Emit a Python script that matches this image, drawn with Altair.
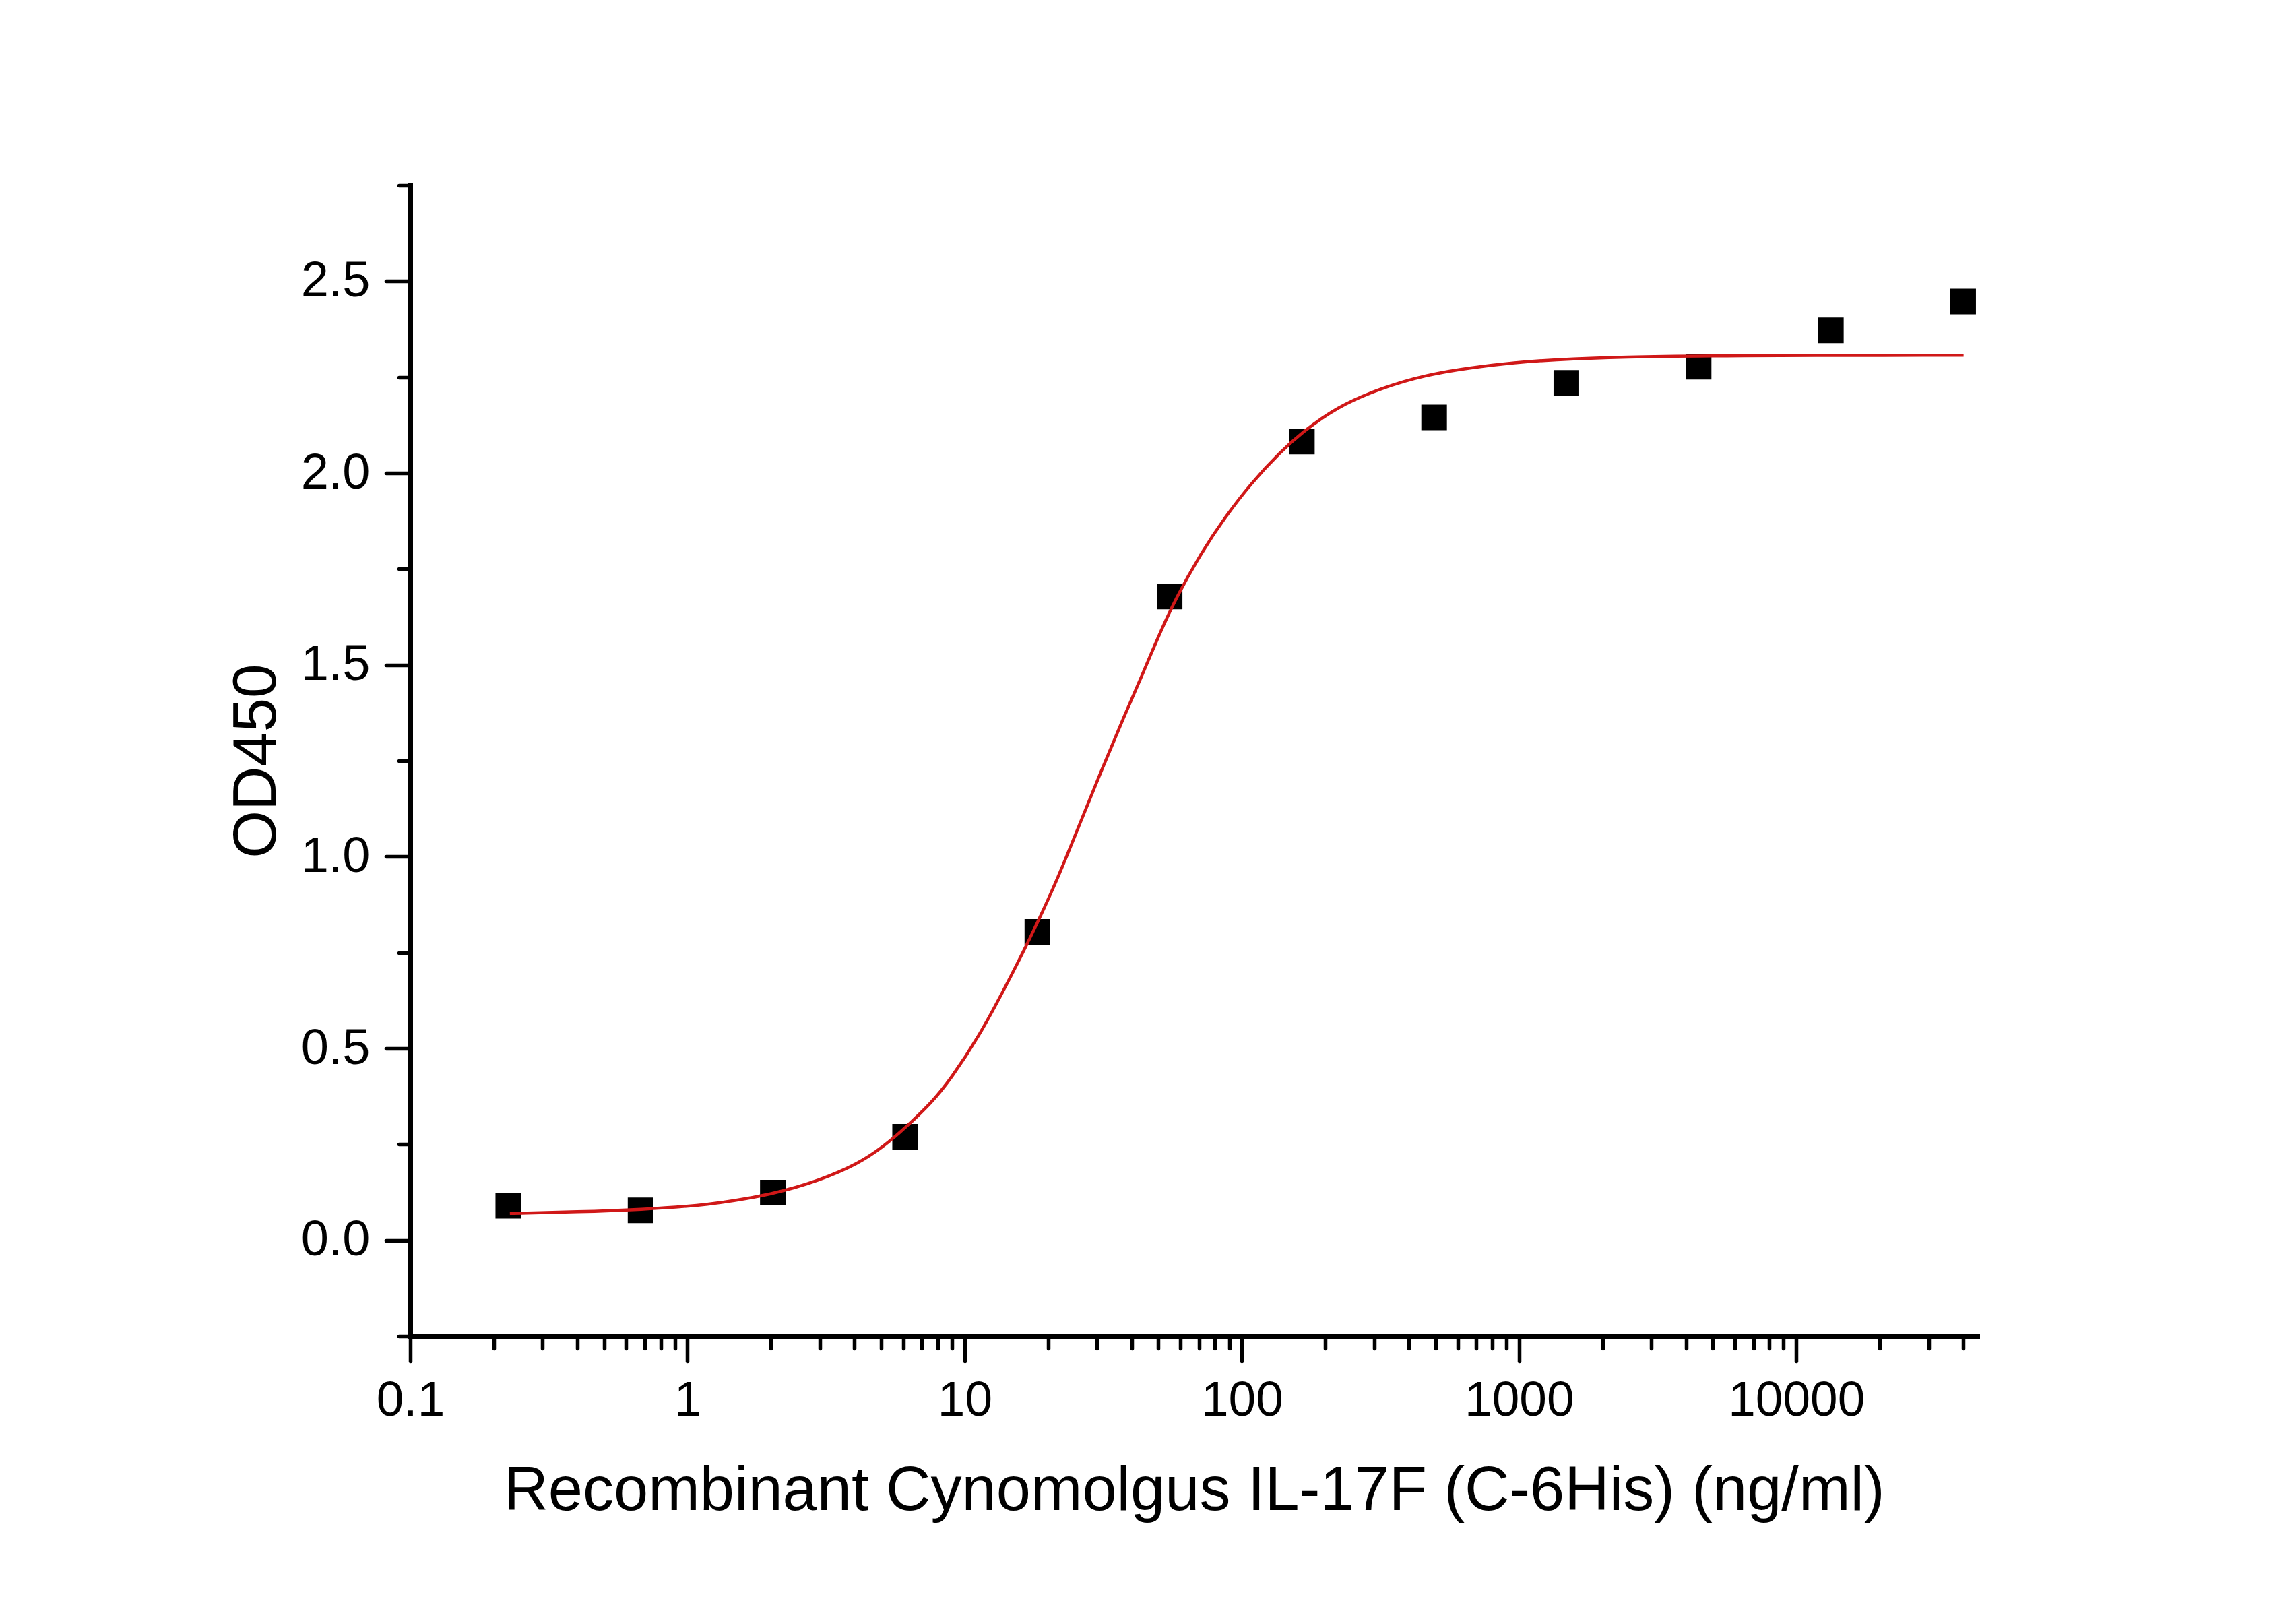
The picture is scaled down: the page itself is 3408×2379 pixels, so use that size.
import altair as alt
import pandas as pd

# Measured OD450 values for the IL-17F dilution series (ng/ml)
conc = [0.2257, 0.6772, 2.032, 6.096, 18.29, 54.87, 164.6, 493.8, 1481, 4444, 13333, 40000]
od450 = [0.090, 0.078, 0.124, 0.270, 0.804, 1.678, 2.082, 2.145, 2.235, 2.277, 2.372, 2.447]

# Fitted dose-response curve, sampled along the concentration range
fit_conc = [0.2287, 0.405, 0.675, 1.182, 2.05, 3.00, 4.125, 5.11, 6.045, 7.63, 8.86,
            11.28, 13.98, 17.31, 21.31, 25.67, 30.94, 37.29, 44.12, 49.34, 57.81,
            71.64, 86.37, 108.1, 137.7, 164.4, 219.5, 318.8, 463.2, 672.3, 977,
            1292, 2413, 5238, 40150]
fit_od = [0.070, 0.074, 0.080, 0.091, 0.120, 0.156, 0.199, 0.245, 0.290, 0.360, 0.418,
          0.532, 0.658, 0.790, 0.930, 1.075, 1.220, 1.360, 1.480, 1.565, 1.675,
          1.794, 1.882, 1.974, 2.055, 2.105, 2.172, 2.222, 2.256, 2.275, 2.288,
          2.295, 2.303, 2.306, 2.307]

# Axis tick values
x_major = [0.1, 1, 10, 100, 1000, 10000]
x_minor = [round(m * d, 4) for d in [0.1, 1, 10, 100, 1000] for m in range(2, 10)] + [20000, 30000, 40000]
y_major = [0.0, 0.5, 1.0, 1.5, 2.0, 2.5]
y_minor = [-0.25, 0.25, 0.75, 1.25, 1.75, 2.25, 2.75]

x_title = "Recombinant Cynomolgus IL-17F (C-6His) (ng/ml)"
y_title = "OD450"

FONT = "Liberation Sans"
W, H = 2326, 1708

pts = pd.DataFrame({"conc": conc, "od": od450})
fit = pd.DataFrame({"conc": fit_conc, "od": fit_od})

x_scale = alt.Scale(type="log", domain=[0.1, 45000], nice=False)
y_scale = alt.Scale(domain=[-0.25, 2.75], nice=False, zero=False)

common_axis = dict(grid=False, tickColor="black", tickWidth=5.5, tickCap="round",
                   domainColor="black", labelColor="black", titleColor="black",
                   labelFont=FONT, titleFont=FONT)

points = alt.Chart(pts).mark_point(
    shape="square", filled=True, size=1444, color="black", opacity=1
).encode(
    x=alt.X("conc:Q", scale=x_scale,
            axis=alt.Axis(orient="bottom", values=x_major, format="~g",
                          tickSize=37, domainWidth=7, domainCap="square",
                          labelFontSize=73, labelPadding=22, labelFlush=False,
                          labelOverlap=False, labelBound=False, labelLimit=800,
                          title=x_title, titleFontSize=92, titleFontWeight="normal",
                          titleX=W / 2, titleY=257, titleAlign="center",
                          titleBaseline="alphabetic", titleLimit=4000, **common_axis)),
    y=alt.Y("od:Q", scale=y_scale,
            axis=alt.Axis(orient="left", values=y_major, format=".1f",
                          tickSize=36, domainWidth=7, domainCap="square",
                          labelFontSize=74, labelPadding=24, labelFlush=False,
                          labelOverlap=False, labelBound=False, labelLimit=800,
                          title=y_title, titleFontSize=91, titleFontWeight="normal",
                          titleAngle=270, titleX=-201, titleY=H / 2, titleAlign="center",
                          titleBaseline="alphabetic", **common_axis)),
)

# Smooth red fit line drawn above the markers; its axes carry the minor ticks
curve = alt.Chart(fit).mark_line(
    color="#d01818", strokeWidth=4.5, interpolate="basis"
).encode(
    x=alt.X("conc:Q", scale=x_scale,
            axis=alt.Axis(orient="bottom", values=x_minor, labels=False, domain=False,
                          tickSize=18, title="", **common_axis)),
    y=alt.Y("od:Q", scale=y_scale,
            axis=alt.Axis(orient="left", values=y_minor, labels=False, domain=False,
                          tickSize=17, title="", **common_axis)),
)

chart = alt.layer(points, curve).resolve_axis(
    x="independent", y="independent"
).properties(
    width=W, height=H,
    padding={"left": 609, "top": 275, "right": 473, "bottom": 396},
    autosize=alt.AutoSizeParams(type="none"),
    background="white",
).configure_view(strokeWidth=0)

chart.save("out.html", embed_options={"renderer": "svg", "actions": False})
